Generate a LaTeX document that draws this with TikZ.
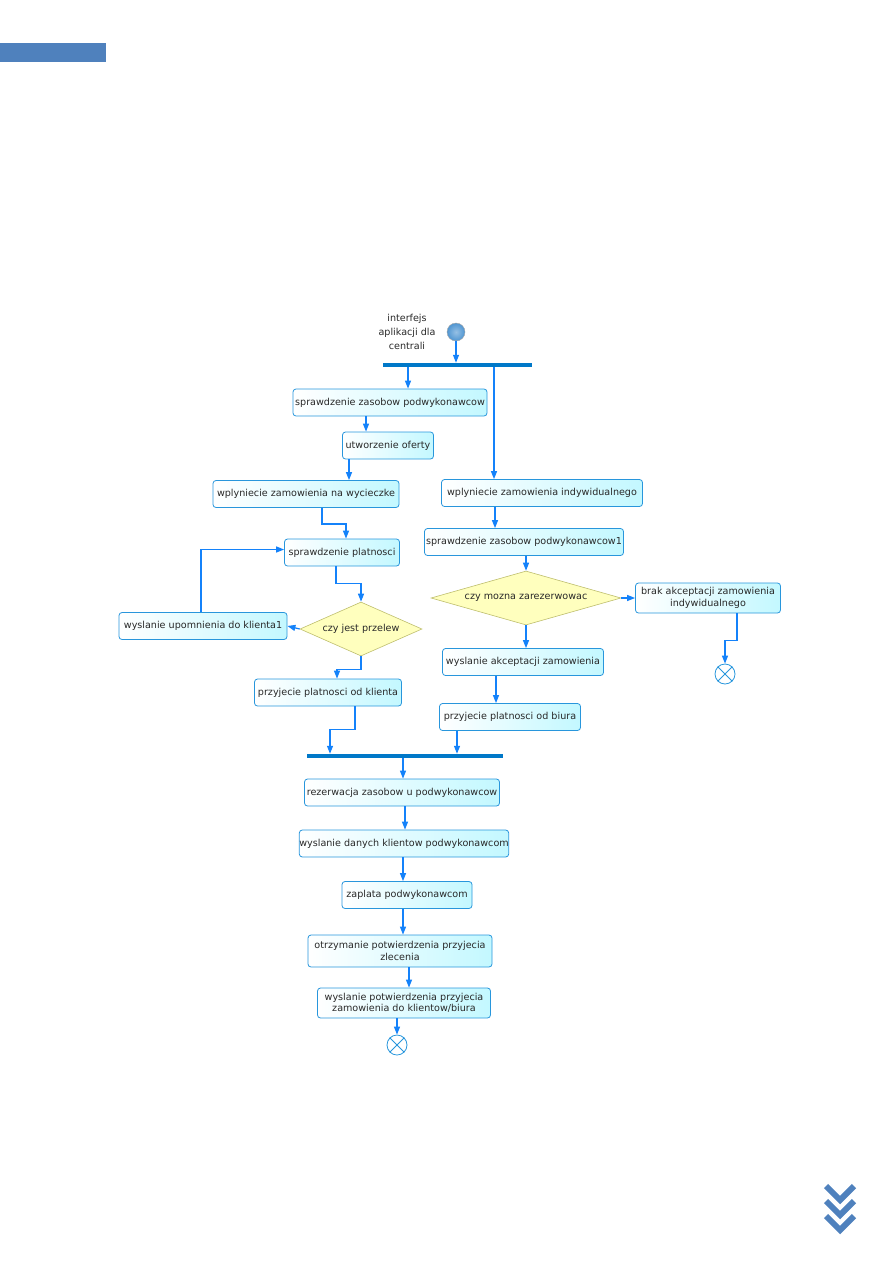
\documentclass[tikz,border=0pt]{standalone}
\usepackage{fontspec}
\setmainfont{DejaVu Sans}
\usetikzlibrary{shapes.geometric,arrows.meta}

\definecolor{flowblue}{RGB}{20,130,250}
\definecolor{boxline}{RGB}{40,150,220}
\definecolor{boxfill}{RGB}{195,248,255}
\definecolor{barblue}{RGB}{0,120,200}
\definecolor{decfill}{RGB}{255,255,190}
\definecolor{decline}{RGB}{190,190,110}
\definecolor{pageblue}{RGB}{79,129,189}
\definecolor{startblue}{RGB}{80,150,210}
\definecolor{txtgray}{RGB}{40,40,40}

\tikzset{
  act/.style={draw=boxline, line width=0.8pt, rounded corners=3pt, left color=white, right color=boxfill,
    inner sep=0pt, minimum height=27pt, align=center, text=txtgray, font=\fontsize{9.6}{11.5}\selectfont},
  decision/.style={diamond, draw=decline, line width=0.6pt, fill=decfill, inner sep=0pt, text=txtgray,
    minimum height=54pt, font=\fontsize{9.6}{11.5}\selectfont},
  bar/.style={fill=barblue, inner sep=0pt, minimum height=4pt},
  flow/.style={draw=flowblue, line width=1.2pt, -{Triangle[length=8pt,width=6pt]}},
  endnode/.style={circle, draw=boxline, line width=0.8pt, fill=white, minimum size=20pt, inner sep=0pt}
}

\begin{document}
\begin{tikzpicture}[x=1pt,y=-1pt]
\useasboundingbox (0,0) rectangle (893,1263);
\fill[pageblue] (0,43) rectangle (106,62);
\foreach \dy in {0,15,30}
  \draw[pageblue, line width=6pt] (826,{1186+\dy}) -- (840,{1200+\dy}) -- (854,{1186+\dy});

% start and fork
\node[circle, minimum size=18pt, inner sep=0pt, draw=gray!70, inner color=startblue!60, outer color=startblue] (start) at (456,332) {};
\node[align=center, text=txtgray, font=\fontsize{9.6}{14}\selectfont] (lbl) at (407,332) {interfejs\\aplikacji dla\\centrali};
\node[bar, minimum width=149pt] (fork) at (457.5,365) {};

% left branch
\node[act, minimum width=194pt] (szp) at (390,402.5) {sprawdzenie zasobow podwykonawcow};
\node[act, minimum width=91pt] (ofe) at (388,445.5) {utworzenie oferty};
\node[act, minimum width=186pt] (wyc) at (306,494) {wplyniecie zamowienia na wycieczke};
\node[act, minimum width=115pt] (plat) at (342,552.5) {sprawdzenie platnosci};
\node[decision, aspect=2.26, minimum width=122pt] (prz) at (361,629) {czy jest przelew};
\node[act, minimum width=168pt] (upo) at (203,626) {wyslanie upomnienia do klienta1};
\node[act, minimum width=147pt] (pkl) at (328,692.5) {przyjecie platnosci od klienta};

% right branch
\node[act, minimum width=201pt] (ind) at (542,493) {wplyniecie zamowienia indywidualnego};
\node[act, minimum width=199pt] (sz1) at (524,542) {sprawdzenie zasobow podwykonawcow1};
\node[decision, aspect=3.52, minimum width=190pt] (moz) at (526,598) {czy mozna zarezerwowac};
\node[act, minimum width=145pt, minimum height=30pt] (brk) at (708,598) {brak akceptacji zamowienia\\indywidualnego};
\node[endnode] (endR) at (725,674) {};
\node[act, minimum width=161pt] (akc) at (523,662) {wyslanie akceptacji zamowienia};
\node[act, minimum width=141pt] (biu) at (510,717) {przyjecie platnosci od biura};

% join and tail
\node[bar, minimum width=196pt] (join) at (405,756) {};
\node[act, minimum width=195pt] (rez) at (402,792.5) {rezerwacja zasobow u podwykonawcow};
\node[act, minimum width=187pt] (dan) at (404,843.5) {wyslanie danych klientow podwykonawcom};
\node[act, minimum width=130pt] (zap) at (407,895) {zaplata podwykonawcom};
\node[act, minimum width=184pt, minimum height=32pt] (otr) at (400,951) {otrzymanie potwierdzenia przyjecia\\zlecenia};
\node[act, minimum width=173pt, minimum height=30pt] (wpo) at (404,1003) {wyslanie potwierdzenia przyjecia\\zamowienia do klientow/biura};
\node[endnode] (endB) at (397,1045) {};
\foreach \e in {endR,endB}
  \draw[boxline, line width=0.8pt] (\e.north west) -- (\e.south east) (\e.north east) -- (\e.south west);

% connectors
\draw[flow] (start.south) -- ([xshift=-1.5pt]fork.north);
\draw[flow] ([xshift=-49.5pt]fork.south) -- ([xshift=18pt]szp.north);
\draw[flow] ([xshift=36.5pt]fork.south) -- ([xshift=-48pt]ind.north);
\draw[flow] ([xshift=-24pt]szp.south) -- ([xshift=-22pt]ofe.north);
\draw[flow] ([xshift=-39pt]ofe.south) -- ([xshift=43pt]wyc.north);
\draw[flow] ([xshift=16pt]wyc.south) -- ++(0,16) -| ([xshift=4pt]plat.north);
\draw[flow] ([xshift=-6pt]plat.south) -- ++(0,17) -| (prz.north);
\draw[flow] (prz.west) -- (upo.east);
\draw[flow] ([xshift=-2pt]upo.north) |- ([yshift=3pt]plat.west);
\draw[flow] (prz.south) -- ++(0,13) -| ([xshift=9pt]pkl.north);
\draw[flow] ([xshift=27pt]pkl.south) -- ++(0,23) -| ([xshift=-75pt]join.north);
\draw[flow] ([xshift=-47pt]ind.south) -- ([xshift=-29pt]sz1.north);
\draw[flow] ([xshift=2pt]sz1.south) -- (moz.north);
\draw[flow] (moz.east) -- (brk.west);
\draw[flow] ([xshift=29pt]brk.south) -- ++(0,27) -| (endR.north);
\draw[flow] (moz.south) -- ([xshift=3pt]akc.north);
\draw[flow] ([xshift=-27pt]akc.south) -- ([xshift=-14pt]biu.north);
\draw[flow] ([xshift=-53pt]biu.south) -- ([xshift=52pt]join.north);
\draw[flow] ([xshift=-2pt]join.south) -- ([xshift=1pt]rez.north);
\draw[flow] ([xshift=3pt]rez.south) -- ([xshift=1pt]dan.north);
\draw[flow] ([xshift=-1pt]dan.south) -- ([xshift=-4pt]zap.north);
\draw[flow] ([xshift=-4pt]zap.south) -- ([xshift=3pt]otr.north);
\draw[flow] ([xshift=9pt]otr.south) -- ([xshift=5pt]wpo.north);
\draw[flow] ([xshift=-7pt]wpo.south) -- (endB.north);
\end{tikzpicture}
\end{document}
